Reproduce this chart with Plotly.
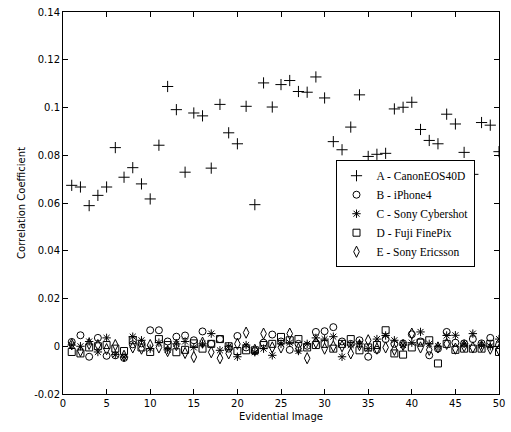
import plotly.graph_objects as go

images = list(range(1, 51))

canon_a = [0.0674, 0.0667, 0.0589, 0.0632, 0.0667, 0.0832, 0.0708, 0.0748, 0.0680, 0.0617,
           0.0842, 0.1088, 0.0991, 0.0729, 0.0977, 0.0965, 0.0746, 0.1013, 0.0894, 0.0848,
           0.1005, 0.0593, 0.1103, 0.1002, 0.1096, 0.1113, 0.1067, 0.1064, 0.1128, 0.1040,
           0.0857, 0.0823, 0.0918, 0.1053, 0.0795, 0.0804, 0.0808, 0.0994, 0.1001, 0.1022,
           0.0908, 0.0862, 0.0848, 0.0972, 0.0931, 0.0812, 0.0720, 0.0937, 0.0926, 0.0815]

iphone_b = [0.0018, 0.0046, -0.0044, 0.0035, -0.0040, -0.0038, -0.0049, 0.0008, 0.0012, 0.0067,
            0.0067, 0.0020, 0.0040, 0.0045, 0.0025, 0.0062, 0.0010, 0.0030, -0.0010, 0.0043,
            -0.0005, -0.0020, 0.0015, 0.0049, 0.0020, -0.0015, 0.0010, 0.0002, 0.0060, 0.0063,
            0.0080, 0.0020, 0.0010, 0.0025, -0.0044, -0.0015, 0.0030, 0.0010, 0.0012, 0.0050,
            0.0020, -0.0038, -0.0010, 0.0060, 0.0015, 0.0012, 0.0030, 0.0012, 0.0035, 0.0005]

sony_c = [0.0005, 0.0000, 0.0020, -0.0024, 0.0035, -0.0035, -0.0045, 0.0040, 0.0025, -0.0010,
          0.0015, -0.0015, 0.0010, 0.0020, -0.0005, 0.0010, 0.0053, -0.0017, 0.0000, -0.0044,
          0.0005, -0.0025, -0.0010, -0.0038, 0.0010, 0.0015, -0.0020, 0.0010, 0.0035, 0.0030,
          0.0040, -0.0044, 0.0005, 0.0010, -0.0010, 0.0030, 0.0045, 0.0025, 0.0005, 0.0015,
          0.0060, 0.0010, 0.0000, 0.0045, 0.0046, 0.0010, 0.0053, 0.0005, 0.0000, 0.0030]

fuji_d = [-0.0024, -0.0030, -0.0005, 0.0000, 0.0005, -0.0010, -0.0020, 0.0025, -0.0005, -0.0024,
          0.0030, 0.0005, -0.0025, -0.0015, 0.0012, -0.0010, 0.0010, 0.0030, 0.0000, -0.0020,
          -0.0017, -0.0017, 0.0005, 0.0010, 0.0039, 0.0025, 0.0030, -0.0005, 0.0005, 0.0010,
          -0.0010, 0.0010, 0.0030, -0.0017, -0.0005, 0.0005, 0.0067, -0.0030, -0.0035, -0.0005,
          0.0015, 0.0025, -0.0072, 0.0010, -0.0015, -0.0010, -0.0010, -0.0010, 0.0010, -0.0024]

ericsson_e = [0.0008, -0.0020, 0.0010, 0.0005, -0.0012, 0.0005, -0.0040, -0.0005, -0.0010, 0.0005,
              -0.0005, -0.0020, 0.0005, -0.0028, -0.0045, 0.0015, -0.0025, -0.0050, -0.0030, 0.0010,
              0.0057, -0.0015, 0.0053, -0.0005, -0.0005, 0.0053, -0.0010, -0.0050, 0.0015, -0.0010,
              0.0000, 0.0000, -0.0030, 0.0005, 0.0025, -0.0010, -0.0005, -0.0015, 0.0005, 0.0053,
              -0.0005, -0.0015, -0.0005, 0.0010, -0.0010, 0.0000, -0.0005, 0.0000, -0.0010, -0.0015]

series_names = ["A - CanonEOS40D", "B - iPhone4", "C - Sony Cybershot", "D - Fuji FinePix", "E - Sony Ericsson"]

y_tickvals = [-0.02, 0, 0.02, 0.04, 0.06, 0.08, 0.1, 0.12, 0.14]
y_ticktext = ["-0.02", "0", "0.02", "0.04", "0.06", "0.08", "0.1", "0.12", "0.14"]
x_tickvals = [0, 5, 10, 15, 20, 25, 30, 35, 40, 45, 50]

symbols = ["cross-thin-open", "circle-open", "asterisk-open", "square-open", "diamond-tall-open"]
sizes = [8, 7, 7, 7, 8]
data = [canon_a, iphone_b, sony_c, fuji_d, ericsson_e]

fig = go.Figure()
for name, vals, sym, sz in zip(series_names, data, symbols, sizes):
    fig.add_trace(go.Scatter(
        x=images, y=vals, mode="markers", name=name,
        marker=dict(symbol=sym, size=sz, color="black",
                    line=dict(color="#222222", width=1)),
    ))

axis_common = dict(
    showline=True, linecolor="black", linewidth=1, mirror="ticks",
    ticks="inside", ticklen=5, tickcolor="black", tickwidth=1,
    showgrid=False, zeroline=False,
    tickfont=dict(family="DejaVu Sans", size=10, color="black"),
)

fig.update_layout(
    width=511, height=432,
    margin=dict(l=63, r=6, t=9, b=38),
    paper_bgcolor="white", plot_bgcolor="white",
    font=dict(family="DejaVu Sans", size=10, color="black"),
    showlegend=True,
    legend=dict(
        x=0.625, y=0.612, xanchor="left", yanchor="top",
        bgcolor="white", bordercolor="black", borderwidth=1,
        font=dict(family="Liberation Serif", size=11.5, color="black"),
        tracegroupgap=0, itemsizing="trace",
    ),
    xaxis=dict(range=[0, 50], tickvals=x_tickvals,
               title=dict(text="Evidential Image", standoff=4,
                          font=dict(family="DejaVu Sans", size=10)),
               **axis_common),
    yaxis=dict(range=[-0.02, 0.14], tickvals=y_tickvals, ticktext=y_ticktext,
               title=dict(text="Correlation Coefficient", standoff=6,
                          font=dict(family="DejaVu Sans", size=10)),
               **axis_common),
)

fig.write_html("out.html")
